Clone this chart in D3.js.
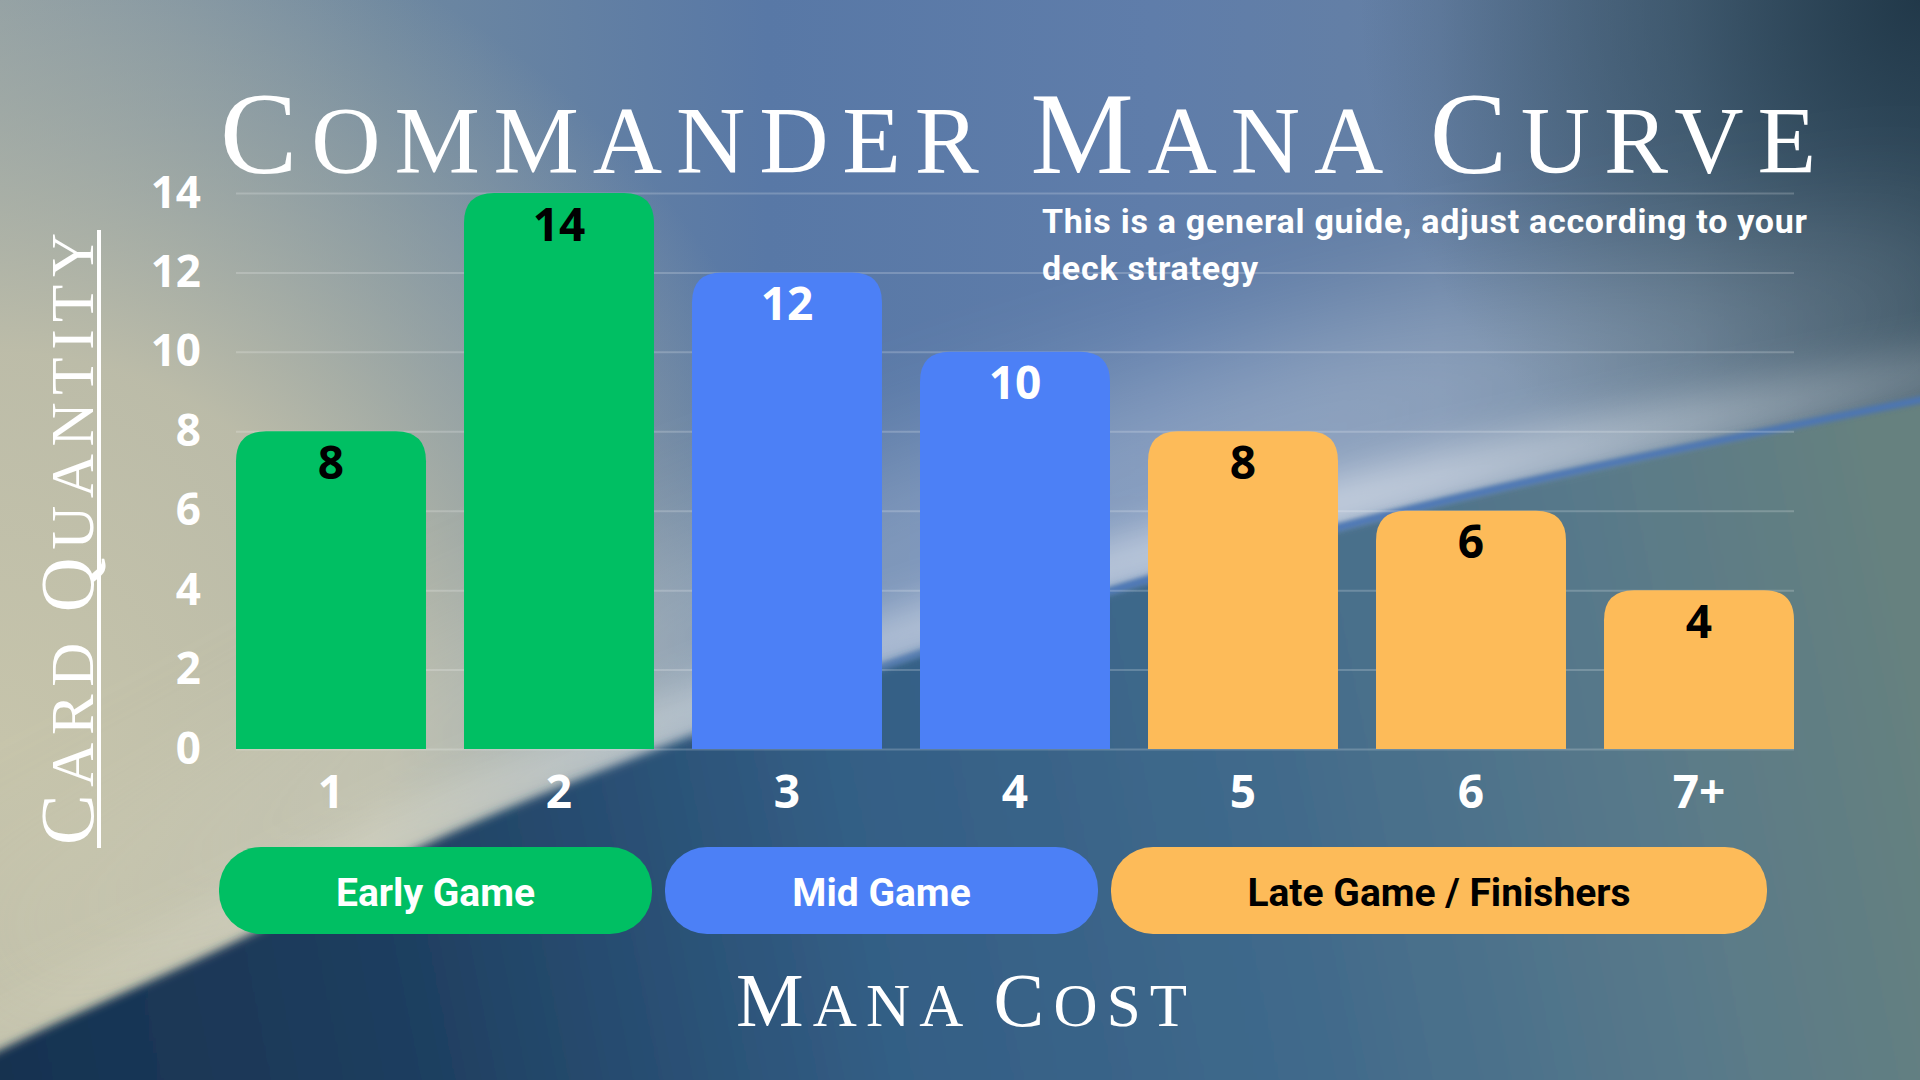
<!DOCTYPE html>
<html>
<head>
<meta charset="utf-8">
<script src="https://cdn.jsdelivr.net/npm/d3@7"></script>
<style>
  html, body { margin: 0; padding: 0; overflow: hidden; background: #5a76a0; }
  svg { display: block; }
</style>
</head>
<body>
<div id="chart"></div>
<script>
// chart data
const categories = ['1', '2', '3', '4', '5', '6', '7+'];
const values = [8, 14, 12, 10, 8, 6, 4];
const phaseOf = ['early', 'early', 'mid', 'mid', 'late', 'late', 'late'];
const phases = ['early', 'mid', 'late'];
const phaseLabels = ['Early Game', 'Mid Game', 'Late Game / Finishers'];
const yTicks = [0, 2, 4, 6, 8, 10, 12, 14];
const titleText = 'Commander Mana Curve';
const xTitle = 'Mana Cost';
const yTitle = 'Card Quantity';
const noteLines = ['This is a general guide, adjust according to your', 'deck strategy'];

const W = 1920, H = 1080;
const fill = { early: '#00bf63', mid: '#4c80f6', late: '#fdbb59' };
const barInk = { early: '#000000', mid: '#ffffff', late: '#000000' };
const pillInk = { early: '#ffffff', mid: '#ffffff', late: '#000000' };
const numFont = '"Open Sans", sans-serif';
const textFont = 'Roboto, sans-serif';
const capsFont = '"Liberation Serif", "DejaVu Serif", serif';

const svg = d3.select('#chart').append('svg')
  .attr('width', W)
  .attr('height', H);

// ---------- background ----------
const defs = svg.append('defs');

function linGrad(id, x1, y1, x2, y2, stops) {
  const g = defs.append('linearGradient').attr('id', id)
    .attr('gradientUnits', 'userSpaceOnUse')
    .attr('x1', x1).attr('y1', y1).attr('x2', x2).attr('y2', y2);
  stops.forEach(s => g.append('stop').attr('offset', s[0]).attr('stop-color', s[1]).attr('stop-opacity', s[2] == null ? 1 : s[2]));
}
function radGrad(id, cx, cy, r, stops) {
  const g = defs.append('radialGradient').attr('id', id)
    .attr('gradientUnits', 'userSpaceOnUse')
    .attr('cx', cx).attr('cy', cy).attr('r', r);
  stops.forEach(s => g.append('stop').attr('offset', s[0]).attr('stop-color', s[1]).attr('stop-opacity', s[2] == null ? 1 : s[2]));
}
function blur(id, sd) {
  defs.append('filter').attr('id', id)
    .attr('filterUnits', 'userSpaceOnUse')
    .attr('x', -300).attr('y', -300).attr('width', W + 600).attr('height', H + 600)
    .append('feGaussianBlur').attr('stdDeviation', sd);
}

linGrad('bgTop', 0, 0, W, 0, [
  [0, '#8c9ca4'], [0.2, '#6e88a0'], [0.4, '#5878a6'], [0.6, '#5f7daa'],
  [0.75, '#6580a4'], [0.88, '#58738c'], [1, '#3a5464']
]);
radGrad('beige', 0, 740, 860, [[0, '#c6c4ab', 1], [0.45, '#c2c0a9', 0.9], [0.75, '#b3b6a6', 0.45], [1, '#b3b6a6', 0]]);
radGrad('darkCorner', W, 0, 560, [[0, '#203748', 0.95], [0.45, '#2c4558', 0.55], [1, '#2c4558', 0]]);
linGrad('bgLow', 0, 1080, 1920, 700, [
  [0, '#173250'], [0.2, '#1d3d5e'], [0.45, '#335e85'], [0.65, '#3f698b'],
  [0.85, '#58798a'], [1, '#66817f']
]);
linGrad('glow', 0, 0, W, 0, [
  [0, '#e6e2c8', 0.2], [0.4, '#eef2f6', 0.55], [0.7, '#ffffff', 0.65], [1, '#ffffff', 0.25]
]);
linGrad('edge', 0, 0, W, 0, [
  [0, '#4c78b8', 0], [0.35, '#4c78b8', 0], [0.55, '#4a76b8', 0.9], [1, '#4a76b8', 0.9]
]);
blur('b60', 60);
blur('b22', 22);
blur('b5', 5);
blur('b2', 2);

const curvePts = [[-40, 1070], [0, 1050], [245, 937], [429, 843], [655, 750], [918, 654],
  [1113, 590], [1340, 527], [1920, 400], [1980, 388]];
const curve = d3.line().curve(d3.curveMonotoneX);
const edgePath = curve(curvePts);
const shifted = dy => curve(curvePts.map(p => [p[0], p[1] + dy]));

const bg = svg.append('g').attr('class', 'background');
bg.append('rect').attr('width', W).attr('height', H).attr('fill', 'url(#bgTop)');
bg.append('rect').attr('width', W).attr('height', H).attr('fill', 'url(#beige)');
bg.append('rect').attr('width', W).attr('height', H).attr('fill', 'url(#darkCorner)');
bg.append('path').attr('d', shifted(-100)).attr('fill', 'none')
  .attr('stroke', 'url(#glow)').attr('stroke-width', 200).attr('opacity', 0.45).attr('filter', 'url(#b60)');
bg.append('path').attr('d', shifted(-22)).attr('fill', 'none')
  .attr('stroke', 'url(#glow)').attr('stroke-width', 50).attr('opacity', 0.95).attr('filter', 'url(#b22)');
bg.append('path').attr('d', edgePath + `L${W + 60},${H + 60}L-60,${H + 60}Z`)
  .attr('fill', 'url(#bgLow)').attr('filter', 'url(#b5)');
bg.append('path').attr('d', edgePath).attr('fill', 'none')
  .attr('stroke', 'url(#edge)').attr('stroke-width', 7).attr('filter', 'url(#b2)');

// ---------- scales ----------
const x = d3.scaleBand()
  .domain(categories)
  .range([236, 1794])
  .paddingInner(0.1667)
  .paddingOuter(0);

const y = d3.scaleLinear()
  .domain([0, 14])
  .range([749, 193]);

// y axis with gridlines
const gy = svg.append('g')
  .attr('class', 'axis y-axis')
  .attr('transform', `translate(${x.range()[0]},0)`)
  .call(d3.axisLeft(y).tickValues(yTicks).tickSize(-(x.range()[1] - x.range()[0])).tickPadding(35));
gy.select('.domain').remove();
gy.selectAll('line').attr('stroke', '#ffffff').attr('stroke-opacity', 0.2).attr('stroke-width', 2);
gy.selectAll('text')
  .attr('fill', '#ffffff')
  .attr('font-family', numFont)
  .attr('font-weight', 700)
  .attr('font-size', 44);

// bars with rounded tops
function topRounded(x0, y0, w, h, r) {
  return `M${x0},${y0 + h}V${y0 + r}Q${x0},${y0} ${x0 + r},${y0}H${x0 + w - r}Q${x0 + w},${y0} ${x0 + w},${y0 + r}V${y0 + h}Z`;
}
const bars = svg.append('g').attr('class', 'bars');
bars.selectAll('path')
  .data(categories)
  .join('path')
  .attr('fill', (d, i) => fill[phaseOf[i]])
  .attr('d', (d, i) => topRounded(x(d), y(values[i]), x.bandwidth(), y(0) - y(values[i]), 30));

bars.selectAll('text')
  .data(categories)
  .join('text')
  .attr('x', d => x(d) + x.bandwidth() / 2)
  .attr('y', (d, i) => y(values[i]) + 31)
  .attr('dy', '0.36em')
  .attr('text-anchor', 'middle')
  .attr('font-family', numFont)
  .attr('font-weight', 700)
  .attr('font-size', 46)
  .attr('fill', (d, i) => barInk[phaseOf[i]])
  .text((d, i) => values[i]);

// x axis
const gx = svg.append('g')
  .attr('class', 'axis x-axis')
  .attr('transform', `translate(0,${y(0)})`)
  .call(d3.axisBottom(x).tickSize(0).tickPadding(26));
gx.select('.domain').remove();
gx.selectAll('text')
  .attr('fill', '#ffffff')
  .attr('font-family', numFont)
  .attr('font-weight', 700)
  .attr('font-size', 46);

// phase pills
const pill = d3.scaleLinear().domain([0, categories.length]).range([212.5, 1773.5]);
const pillData = phases.map((p, k) => {
  const idx = phaseOf.map((q, i) => q === p ? i : -1).filter(i => i >= 0);
  return { phase: p, label: phaseLabels[k], from: idx[0], to: idx[idx.length - 1] + 1 };
});
const pills = svg.append('g').attr('class', 'pills');
pills.selectAll('rect')
  .data(pillData)
  .join('rect')
  .attr('x', d => pill(d.from) + 6.5)
  .attr('width', d => pill(d.to) - pill(d.from) - 13)
  .attr('y', 847)
  .attr('height', 87)
  .attr('rx', 42)
  .attr('fill', d => fill[d.phase]);
pills.selectAll('text')
  .data(pillData)
  .join('text')
  .attr('x', d => (pill(d.from) + pill(d.to)) / 2)
  .attr('y', 892)
  .attr('dy', '0.35em')
  .attr('text-anchor', 'middle')
  .attr('font-family', textFont)
  .attr('font-weight', 700)
  .attr('font-size', 39)
  .attr('fill', d => pillInk[d.phase])
  .text(d => d.label);

// small-caps text: first letter of each word big, the rest smaller capitals
function smallCaps(sel, str, big, small, width) {
  str.split(' ').forEach((w, i) => {
    if (i > 0) sel.append('tspan').attr('font-size', small).text(' ');
    sel.append('tspan').attr('font-size', big).text(w[0].toUpperCase());
    sel.append('tspan').attr('font-size', small).text(w.slice(1).toUpperCase());
  });
  const n = str.length;
  const w0 = sel.node().getComputedTextLength();
  sel.attr('letter-spacing', (width - w0) / (n - 1));
  return sel;
}

// title
smallCaps(svg.append('text')
  .attr('class', 'chart-title')
  .attr('x', 220)
  .attr('y', 173)
  .attr('fill', '#ffffff')
  .attr('font-family', capsFont), titleText, 116, 96, 1596);

// x title
smallCaps(svg.append('text')
  .attr('x', 736)
  .attr('y', 1026)
  .attr('fill', '#ffffff')
  .attr('font-family', capsFont), xTitle, 76, 61, 451);

// y title, rotated, underlined
const yt = svg.append('text')
  .attr('transform', `translate(93,845) rotate(-90)`)
  .attr('fill', '#ffffff')
  .attr('font-family', capsFont);
smallCaps(yt, yTitle, 76, 61, 612);
svg.append('line')
  .attr('x1', 99).attr('x2', 99)
  .attr('y1', 230).attr('y2', 848)
  .attr('stroke', '#ffffff')
  .attr('stroke-width', 4);

// note
const note = svg.append('text')
  .attr('class', 'note')
  .attr('fill', '#ffffff')
  .attr('font-family', textFont)
  .attr('font-weight', 700)
  .attr('font-size', 34);
note.selectAll('tspan')
  .data(noteLines)
  .join('tspan')
  .attr('x', 1042)
  .attr('y', (d, i) => 233 + i * 47)
  .text(d => d);
const firstLine = note.select('tspan').node();
const lineW = firstLine.getComputedTextLength();
note.attr('letter-spacing', (765 - lineW) / (noteLines[0].length - 1));
</script>
</body>
</html>
